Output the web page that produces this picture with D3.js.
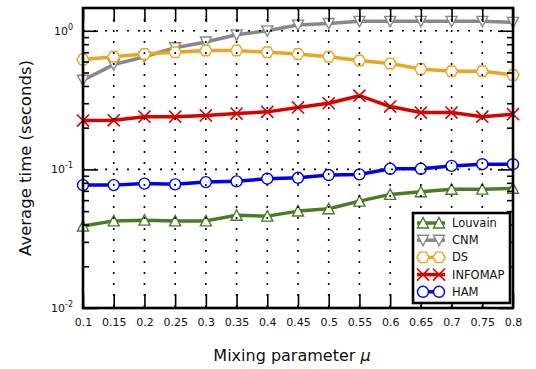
<!DOCTYPE html>
<html>
<head>
<meta charset="utf-8">
<script src="https://cdn.jsdelivr.net/npm/d3@7"></script>
<style>
  body { margin: 0; background: #fff; }
  text { font-family: "DejaVu Sans", sans-serif; fill: #111; }
</style>
</head>
<body>
<svg id="chart" width="536" height="369"></svg>
<script>
// mixing parameter values
const mu = [0.1, 0.15, 0.2, 0.25, 0.3, 0.35, 0.4, 0.45, 0.5, 0.55, 0.6, 0.65, 0.7, 0.75, 0.8]
const xTickLabels = ['0.1', '0.15', '0.2', '0.25', '0.3', '0.35', '0.4', '0.45', '0.5', '0.55', '0.6', '0.65', '0.7', '0.75', '0.8']
const yDecades = [0.01, 0.1, 1]
const yDecadeExp = ['-2', '-1', '0']

// average time (seconds)
const louvain = [0.039, 0.0425, 0.043, 0.0425, 0.0425, 0.0467, 0.046, 0.050, 0.052, 0.059, 0.066, 0.069, 0.0718, 0.072, 0.073]
const cnm = [0.44, 0.57, 0.65, 0.755, 0.83, 0.935, 1.0, 1.10, 1.13, 1.17, 1.17, 1.17, 1.17, 1.17, 1.15]
const ds = [0.62, 0.65, 0.68, 0.70, 0.72, 0.72, 0.70, 0.68, 0.65, 0.61, 0.58, 0.53, 0.51, 0.51, 0.48]
const infomap = [0.225, 0.226, 0.24, 0.24, 0.245, 0.253, 0.26, 0.28, 0.30, 0.34, 0.284, 0.257, 0.257, 0.24, 0.25]
const ham = [0.077, 0.077, 0.079, 0.078, 0.081, 0.082, 0.0857, 0.087, 0.091, 0.092, 0.101, 0.101, 0.106, 0.109, 0.109]

const seriesNames = ['Louvain', 'CNM', 'DS', 'INFOMAP', 'HAM']
const seriesValues = [louvain, cnm, ds, infomap, ham]
const seriesColors = ['#4a7d23', '#888888', '#e8a623', '#d90000', '#0000f0']
const seriesMarkers = ['triUp', 'triDown', 'hex', 'cross', 'circle']

const plot = { left: 83, right: 513, top: 8, bottom: 308 }

const svg = d3.select('#chart')
const x = d3.scaleLinear().domain([0.1, 0.8]).range([plot.left, plot.right])
const y = d3.scaleLog().domain([0.01, 1.46]).range([plot.bottom, plot.top])

// minor ticks 2..9 of each decade inside domain
const yMinors = []
;[0.01, 0.1, 1].forEach(d => {
	for (let k = 2; k <= 9; k++) {
		const v = d * k
		if (v < 1.46) yMinors.push(v)
	}
})

// 标记形状
function markerPath(type, r) {
	const p = d3.path()
	if (type === 'circle') {
		p.moveTo(r, 0)
		p.arc(0, 0, r, 0, Math.PI * 2)
	} else if (type === 'triUp') {
		p.moveTo(0, -r); p.lineTo(r, r * 0.9); p.lineTo(-r, r * 0.9); p.closePath()
	} else if (type === 'triDown') {
		p.moveTo(0, r); p.lineTo(r, -r * 0.9); p.lineTo(-r, -r * 0.9); p.closePath()
	} else if (type === 'hex') {
		for (let i = 0; i < 6; i++) {
			const a = i * Math.PI / 3
			const px = r * 1.1 * Math.cos(a), py = r * 1.1 * Math.sin(a)
			if (i === 0) p.moveTo(px, py); else p.lineTo(px, py)
		}
		p.closePath()
	} else if (type === 'cross') {
		const s = r * 1.1
		p.moveTo(-s, -s); p.lineTo(s, s)
		p.moveTo(-s, s); p.lineTo(s, -s)
	}
	return p.toString()
}

function drawMarker(g, type, cx, cy, color) {
	g.append('path')
		.attr('d', markerPath(type, 5.5))
		.attr('transform', `translate(${cx},${cy})`)
		.attr('fill', type === 'cross' ? 'none' : '#fff')
		.attr('stroke', color)
		.attr('stroke-width', type === 'cross' ? 1.6 : 1.4)
}

// plot background
svg.append('rect')
	.attr('x', plot.left).attr('y', plot.top)
	.attr('width', plot.right - plot.left).attr('height', plot.bottom - plot.top)
	.attr('fill', '#fff')

// series
const line = d3.line().x((d, i) => x(mu[i])).y(d => y(d))
const seriesG = svg.append('g')
seriesValues.forEach((vals, s) => {
	const g = seriesG.append('g')
	g.append('path')
		.attr('d', line(vals))
		.attr('fill', 'none')
		.attr('stroke', seriesColors[s])
		.attr('stroke-width', 3.5)
		.attr('stroke-linejoin', 'round')
	vals.forEach((v, i) => drawMarker(g, seriesMarkers[s], x(mu[i]), y(v), seriesColors[s]))
})

// dotted grid on top
const grid = svg.append('g')
	.attr('stroke', '#000').attr('stroke-width', 1.6).attr('stroke-dasharray', '2,9')
mu.slice(1, -1).forEach(v => {
	grid.append('line').attr('x1', x(v)).attr('x2', x(v)).attr('y1', plot.top).attr('y2', plot.bottom)
})
yDecades.slice(1).forEach(v => {
	grid.append('line').attr('x1', plot.left).attr('x2', plot.right).attr('y1', y(v)).attr('y2', y(v))
})

// axes with inward ticks
const xBottom = svg.append('g')
	.attr('transform', `translate(0,${plot.bottom})`)
	.call(d3.axisBottom(x).tickValues(mu).tickSize(-14).tickPadding(10)
		.tickFormat((d, i) => xTickLabels[i]))
const xTop = svg.append('g')
	.attr('transform', `translate(0,${plot.top})`)
	.call(d3.axisTop(x).tickValues(mu).tickSize(-14).tickFormat(''))
const yLeft = svg.append('g')
	.attr('transform', `translate(${plot.left},0)`)
	.call(d3.axisLeft(y).tickValues(yDecades).tickSize(-15).tickFormat(''))
const yLeftMinor = svg.append('g')
	.attr('transform', `translate(${plot.left},0)`)
	.call(d3.axisLeft(y).tickValues(yMinors).tickSize(-6).tickFormat(''))
const yRight = svg.append('g')
	.attr('transform', `translate(${plot.right},0)`)
	.call(d3.axisRight(y).tickValues(yDecades).tickSize(-15).tickFormat(''))
const yRightMinor = svg.append('g')
	.attr('transform', `translate(${plot.right},0)`)
	.call(d3.axisRight(y).tickValues(yMinors).tickSize(-6).tickFormat(''))

;[xBottom, xTop, yLeft, yLeftMinor, yRight, yRightMinor].forEach(a => {
	a.select('.domain').remove()
	a.selectAll('.tick line').attr('stroke', '#000').attr('stroke-width', 1.6)
})
xBottom.selectAll('.tick text')
	.attr('font-size', 11).attr('font-family', '"DejaVu Sans", sans-serif').attr('fill', '#222')

// y tick labels 10^n
yDecades.forEach((v, i) => {
	const t = svg.append('text')
		.attr('x', plot.left - 10).attr('y', y(v) + 4)
		.attr('text-anchor', 'end').attr('font-size', 11).attr('fill', '#222')
	t.append('tspan').text('10')
	t.append('tspan').attr('dy', -5).attr('font-size', 8).text(yDecadeExp[i])
})

// frame
svg.append('rect')
	.attr('x', plot.left).attr('y', plot.top)
	.attr('width', plot.right - plot.left).attr('height', plot.bottom - plot.top)
	.attr('fill', 'none').attr('stroke', '#000').attr('stroke-width', 2.6)

// axis titles
svg.append('text')
	.attr('transform', `translate(31,${(plot.top + plot.bottom) / 2}) rotate(-90)`)
	.attr('text-anchor', 'middle').attr('font-size', 16.5)
	.text('Average time (seconds)')
const xl = svg.append('text')
	.attr('x', 292).attr('y', 361)
	.attr('text-anchor', 'middle').attr('font-size', 16)
xl.append('tspan').text('Mixing parameter ')
xl.append('tspan').attr('font-style', 'italic').text('μ')

// legend
const lg = svg.append('g')
lg.append('rect')
	.attr('x', 413).attr('y', 213).attr('width', 97).attr('height', 90)
	.attr('fill', '#fff').attr('stroke', '#000').attr('stroke-width', 2.6)
seriesNames.forEach((name, s) => {
	const cy = 223 + s * 17.2
	lg.append('line')
		.attr('x1', 417).attr('x2', 445).attr('y1', cy).attr('y2', cy)
		.attr('stroke', seriesColors[s]).attr('stroke-width', 3.5)
	drawMarker(lg, seriesMarkers[s], 423, cy, seriesColors[s])
	drawMarker(lg, seriesMarkers[s], 439, cy, seriesColors[s])
	lg.append('text')
		.attr('x', 452).attr('y', cy + 4)
		.attr('font-size', 11.5).attr('fill', '#222')
		.text(name)
})
</script>
</body>
</html>
